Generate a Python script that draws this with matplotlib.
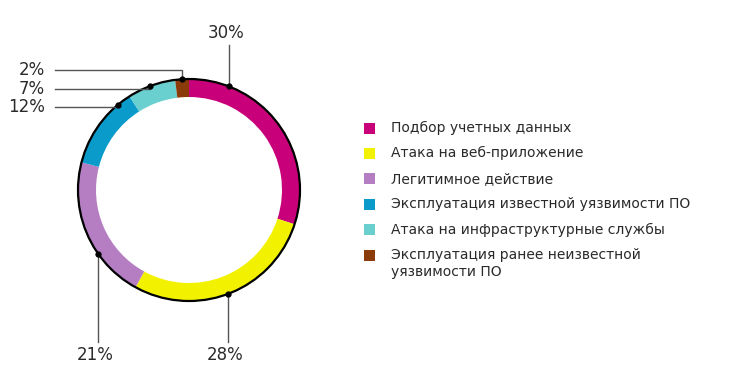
import matplotlib.pyplot as plt
import numpy as np

labels = ['Подбор учетных данных', 'Атака на веб-приложение', 'Легитимное действие',
          'Эксплуатация известной уязвимости ПО', 'Атака на инфраструктурные службы',
          'Эксплуатация ранее неизвестной\nуязвимости ПО']
values = [30, 28, 21, 12, 7, 2]
colors = ['#C8007A', '#F2F200', '#B57EC3', '#0A9BCA', '#6ACFCF', '#8B3A0A']

W, H = 751, 386
fig = plt.figure(figsize=(W / 100, H / 100), dpi=100)
ax = fig.add_axes([0, 0, 1, 1])

cx, cy, r = 189, H - 190, 111
ax.pie(values, colors=colors, startangle=90, counterclock=False, radius=r,
       center=(cx, cy), wedgeprops=dict(width=18, linewidth=0), frame=True)
ax.set_xlim(0, W)
ax.set_ylim(0, H)
ax.set_aspect('equal')
ax.axis('off')
ax.add_patch(plt.Circle((cx, cy), r, fill=False, ec='black', lw=1.6, zorder=3))

plt.rcParams['font.family'] = ['DejaVu Sans']
txt = '#2a2a2a'
lc = '#555555'


def circ_y(x, top):
    d = np.sqrt(r ** 2 - (x - cx) ** 2)
    return cy + d if top else cy - d


# vertical leaders: (label, x of dot, top?, text y)
vert = [('30%', 229, True, H - 33), ('28%', 228, False, H - 355), ('21%', 98, False, H - 355)]
for lab, x, top, ty in vert:
    y = circ_y(x, top)
    y2 = ty - 12 if top else ty + 13
    ax.plot([x, x], [y, y2], color=lc, lw=1, zorder=4)
    ax.plot(x, y, 'o', color='black', ms=3.5, zorder=5)
    ax.text(x - 3, ty, lab, ha='center', va='center', fontsize=12, color=txt)

# horizontal leaders on the left
horiz = [('2%', 182, H - 70), ('7%', 150, H - 89), ('12%', 118, H - 107)]
for lab, x, ty in horiz:
    y = circ_y(x, True)
    ax.plot([55, x, x], [ty, ty, y], color=lc, lw=1, zorder=4)
    ax.plot(x, y, 'o', color='black', ms=3.5, zorder=5)
    ax.text(45, ty, lab, ha='right', va='center', fontsize=12, color=txt)

# legend
for i, (lab, c) in enumerate(zip(labels, colors)):
    y = H - (128 + i * 25.4)
    ax.add_patch(plt.Rectangle((364, y - 5.5), 11, 11, color=c, lw=0))
    for j, line in enumerate(lab.split('\n')):
        ax.text(391, y - j * 17, line, ha='left', va='center',
                fontsize=10, color=txt)

fig.savefig('out.png', dpi=100)
